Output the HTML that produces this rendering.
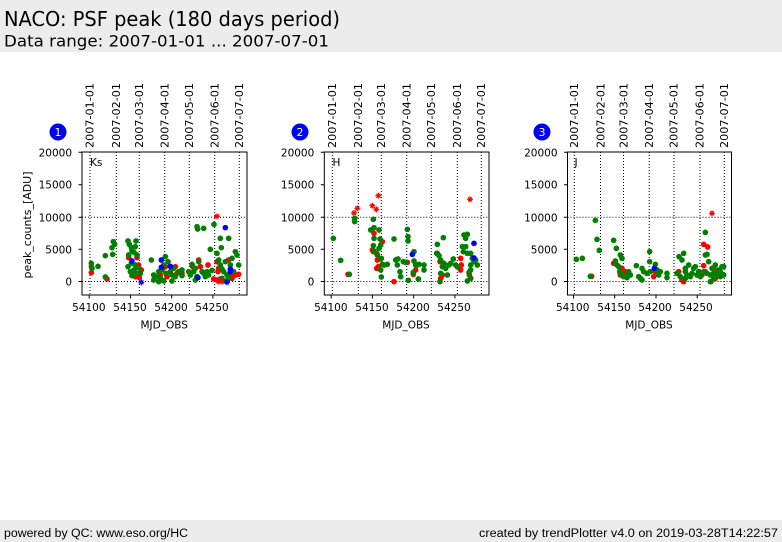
<!DOCTYPE html>
<html><head><meta charset="utf-8"><style>
html,body{margin:0;padding:0;background:#fff;}
svg{display:block;}
text{font-family:"DejaVu Sans","Liberation Sans",sans-serif;fill:#000;}
.ft{font-family:"Liberation Sans","DejaVu Sans",sans-serif;}
</style></head><body>
<svg width="782" height="542" viewBox="0 0 782 542" xmlns="http://www.w3.org/2000/svg">
<defs>
<clipPath id="c1"><rect x="82" y="152" width="165" height="143"/></clipPath>
<clipPath id="c2"><rect x="324.3" y="152" width="164.7" height="143"/></clipPath>
<clipPath id="c3"><rect x="567.5" y="152" width="164" height="143"/></clipPath>
</defs>
<rect x="0" y="0" width="782" height="52" fill="#ececec"/>
<rect x="0" y="520" width="782" height="22" fill="#ececec"/>
<text x="4" y="26" font-size="20" textLength="336" lengthAdjust="spacingAndGlyphs">NACO: PSF peak (180 days period)</text>
<text x="4" y="46.5" font-size="16" textLength="325" lengthAdjust="spacingAndGlyphs">Data range: 2007-01-01 ... 2007-07-01</text>
<text class="ft" x="4" y="537" font-size="11.5" textLength="184" lengthAdjust="spacingAndGlyphs">powered by QC: www.eso.org/HC</text>
<text class="ft" x="479" y="537" font-size="11.5" textLength="299" lengthAdjust="spacingAndGlyphs">created by trendPlotter v4.0 on 2019-03-28T14:22:57</text>

<text transform="translate(31,225) rotate(-90)" font-size="10.5" text-anchor="middle" textLength="107" lengthAdjust="spacingAndGlyphs">peak_counts_[ADU]</text>

<!-- ============ PANEL 1 ============ -->
<g>
<circle cx="58" cy="132" r="8.5" fill="#0000f5"/>
<text x="58" y="136" font-size="11" text-anchor="middle" style="fill:#fff">1</text>
<g font-size="10.5">
<text transform="translate(93.7,148) rotate(-90)" textLength="65" lengthAdjust="spacingAndGlyphs">2007-01-01</text>
<text transform="translate(120,148) rotate(-90)" textLength="65" lengthAdjust="spacingAndGlyphs">2007-02-01</text>
<text transform="translate(143,148) rotate(-90)" textLength="65" lengthAdjust="spacingAndGlyphs">2007-03-01</text>
<text transform="translate(168.4,148) rotate(-90)" textLength="65" lengthAdjust="spacingAndGlyphs">2007-04-01</text>
<text transform="translate(193,148) rotate(-90)" textLength="65" lengthAdjust="spacingAndGlyphs">2007-05-01</text>
<text transform="translate(218.4,148) rotate(-90)" textLength="65" lengthAdjust="spacingAndGlyphs">2007-06-01</text>
<text transform="translate(243,148) rotate(-90)" textLength="65" lengthAdjust="spacingAndGlyphs">2007-07-01</text>
</g>
<g font-size="10.5" text-anchor="end">
<text x="72" y="156.3">20000</text>
<text x="72" y="188.7">15000</text>
<text x="72" y="221.3">10000</text>
<text x="72" y="253.3">5000</text>
<text x="72" y="285.5">0</text>
</g>
<g font-size="10.5" text-anchor="middle">
<text x="88.8" y="311">54100</text>
<text x="130" y="311">54150</text>
<text x="171" y="311">54200</text>
<text x="212" y="311">54250</text>
<text x="164.2" y="328.5">MJD_OBS</text>
</g>
<text x="90" y="166" font-size="10.5">Ks</text>
<g stroke="#000" stroke-width="1" stroke-dasharray="1,2" fill="none">
<path d="M90 152V295M116.3 152V295M139.3 152V295M164.7 152V295M189.3 152V295M214.7 152V295M239.3 152V295"/>
<path d="M82 217.3H247M82 281.5H247"/>
</g>
<g stroke="#000" stroke-width="1">
<path d="M78.5 152.3H82M78.5 184.7H82M78.5 217.3H82M78.5 249.3H82M78.5 281.5H82"/>
<path d="M89.2 295V298.5M130.4 295V298.5M171.7 295V298.5M212.9 295V298.5"/>
</g>
<g clip-path="url(#c1)"><g transform="translate(82,205) scale(0.33333)">
<g fill="#ff0000">
<circle cx="28" cy="185" r="8.5"/><circle cx="28" cy="203" r="8.5"/><circle cx="75" cy="222" r="8.5"/><circle cx="140" cy="158" r="8.5"/><circle cx="165" cy="158" r="8.5"/><circle cx="170" cy="180" r="8.5"/><circle cx="160" cy="215" r="8.5"/><circle cx="155" cy="210" r="8.5"/><circle cx="178" cy="195" r="8.5"/><circle cx="172" cy="218" r="8.5"/><circle cx="220" cy="215" r="8.5"/><circle cx="250" cy="185" r="8.5"/><circle cx="280" cy="185" r="8.5"/><circle cx="285" cy="205" r="8.5"/><circle cx="300" cy="205" r="8.5"/><circle cx="235" cy="210" r="8.5"/><circle cx="350" cy="165" r="8.5"/><circle cx="332" cy="185" r="8.5"/><circle cx="355" cy="185" r="8.5"/><circle cx="345" cy="215" r="8.5"/><circle cx="378" cy="180" r="8.5"/><circle cx="405" cy="170" r="8.5"/><circle cx="408" cy="200" r="8.5"/><circle cx="410" cy="190" r="8.5"/><circle cx="440" cy="165" r="8.5"/><circle cx="445" cy="210" r="8.5"/><circle cx="450" cy="220" r="8.5"/><circle cx="460" cy="210" r="8.5"/><circle cx="415" cy="222" r="8.5"/><circle cx="405" cy="225" r="8.5"/><circle cx="395" cy="222" r="8.5"/><circle cx="150" cy="205" r="8.5"/><circle cx="255" cy="215" r="8.5"/><circle cx="470" cy="208" r="8.5"/>
</g>
<g fill="#008000">
<circle cx="28" cy="175" r="8.5"/><circle cx="30" cy="190" r="8.5"/><circle cx="48" cy="184" r="8.5"/><circle cx="70" cy="152" r="8.5"/><circle cx="70" cy="216" r="8.5"/><circle cx="90" cy="128" r="8.5"/><circle cx="94" cy="110" r="8.5"/><circle cx="92" cy="148" r="8.5"/><circle cx="98" cy="118" r="8.5"/><circle cx="138" cy="108" r="8.5"/><circle cx="142" cy="118" r="8.5"/><circle cx="148" cy="128" r="8.5"/><circle cx="150" cy="138" r="8.5"/><circle cx="156" cy="142" r="8.5"/><circle cx="162" cy="108" r="8.5"/><circle cx="160" cy="125" r="8.5"/><circle cx="165" cy="150" r="8.5"/><circle cx="140" cy="150" r="8.5"/><circle cx="138" cy="185" r="8.5"/><circle cx="145" cy="200" r="8.5"/><circle cx="150" cy="212" r="8.5"/><circle cx="156" cy="195" r="8.5"/><circle cx="160" cy="180" r="8.5"/><circle cx="170" cy="188" r="8.5"/><circle cx="175" cy="205" r="8.5"/><circle cx="165" cy="205" r="8.5"/><circle cx="148" cy="175" r="8.5"/><circle cx="208" cy="165" r="8.5"/><circle cx="215" cy="210" r="8.5"/><circle cx="222" cy="215" r="8.5"/><circle cx="230" cy="200" r="8.5"/><circle cx="236" cy="220" r="8.5"/><circle cx="240" cy="195" r="8.5"/><circle cx="245" cy="180" r="8.5"/><circle cx="250" cy="155" r="8.5"/><circle cx="252" cy="205" r="8.5"/><circle cx="258" cy="170" r="8.5"/><circle cx="265" cy="200" r="8.5"/><circle cx="270" cy="210" r="8.5"/><circle cx="275" cy="190" r="8.5"/><circle cx="280" cy="215" r="8.5"/><circle cx="290" cy="200" r="8.5"/><circle cx="300" cy="195" r="8.5"/><circle cx="300" cy="212" r="8.5"/><circle cx="245" cy="228" r="8.5"/><circle cx="270" cy="228" r="8.5"/><circle cx="230" cy="230" r="8.5"/><circle cx="215" cy="225" r="8.5"/><circle cx="330" cy="178" r="8.5"/><circle cx="335" cy="200" r="8.5"/><circle cx="340" cy="190" r="8.5"/><circle cx="345" cy="215" r="8.5"/><circle cx="350" cy="170" r="8.5"/><circle cx="345" cy="65" r="8.5"/><circle cx="347" cy="72" r="8.5"/><circle cx="365" cy="70" r="8.5"/><circle cx="340" cy="225" r="8.5"/><circle cx="360" cy="200" r="8.5"/><circle cx="365" cy="205" r="8.5"/><circle cx="370" cy="215" r="8.5"/><circle cx="380" cy="210" r="8.5"/><circle cx="385" cy="133" r="8.5"/><circle cx="390" cy="196" r="8.5"/><circle cx="396" cy="58" r="8.5"/><circle cx="375" cy="200" r="8.5"/><circle cx="415" cy="100" r="8.5"/><circle cx="440" cy="100" r="8.5"/><circle cx="405" cy="145" r="8.5"/><circle cx="410" cy="165" r="8.5"/><circle cx="415" cy="180" r="8.5"/><circle cx="420" cy="192" r="8.5"/><circle cx="425" cy="200" r="8.5"/><circle cx="430" cy="170" r="8.5"/><circle cx="435" cy="210" r="8.5"/><circle cx="440" cy="220" r="8.5"/><circle cx="445" cy="180" r="8.5"/><circle cx="450" cy="160" r="8.5"/><circle cx="460" cy="140" r="8.5"/><circle cx="465" cy="150" r="8.5"/><circle cx="470" cy="180" r="8.5"/><circle cx="455" cy="200" r="8.5"/><circle cx="420" cy="220" r="8.5"/><circle cx="432" cy="228" r="8.5"/><circle cx="418" cy="128" r="8.5"/><circle cx="320" cy="200" r="8.5"/><circle cx="325" cy="210" r="8.5"/>
</g>
<g fill="#0000ff">
<circle cx="150" cy="168" r="8.5"/><circle cx="238" cy="165" r="8.5"/><circle cx="238" cy="187" r="8.5"/><circle cx="265" cy="184" r="8.5"/><circle cx="348" cy="218" r="8.5"/><circle cx="445" cy="192" r="8.5"/><circle cx="445" cy="200" r="8.5"/><circle cx="430" cy="68" r="8.5"/>
</g>
<g stroke="#ff0000" stroke-width="3.5">
<path d="M396 34h18M405 25v18M399 28l12 12M411 28l-12 12"/>
<path d="M401 230h18M410 221v18M404 224l12 12M416 224l-12 12"/>
<path d="M411 230h18M420 221v18M414 224l12 12M426 224l-12 12"/>
</g>
<g stroke="#0000ff" stroke-width="3.5">
<path d="M169 232h18M178 223v18M172 226l12 12M184 226l-12 12"/>
<path d="M426 232h18M435 223v18M429 226l12 12M441 226l-12 12"/>
</g>
</g></g>
<rect x="82" y="152" width="165" height="143" fill="none" stroke="#000" stroke-width="1"/>
</g>

<!-- ============ PANEL 2 ============ -->
<g>
<circle cx="300" cy="132" r="8.5" fill="#0000f5"/>
<text x="300" y="136" font-size="11" text-anchor="middle" style="fill:#fff">2</text>
<g font-size="10.5">
<text transform="translate(336,148) rotate(-90)" textLength="65" lengthAdjust="spacingAndGlyphs">2007-01-01</text>
<text transform="translate(362,148) rotate(-90)" textLength="65" lengthAdjust="spacingAndGlyphs">2007-02-01</text>
<text transform="translate(385,148) rotate(-90)" textLength="65" lengthAdjust="spacingAndGlyphs">2007-03-01</text>
<text transform="translate(410.4,148) rotate(-90)" textLength="65" lengthAdjust="spacingAndGlyphs">2007-04-01</text>
<text transform="translate(435,148) rotate(-90)" textLength="65" lengthAdjust="spacingAndGlyphs">2007-05-01</text>
<text transform="translate(461,148) rotate(-90)" textLength="65" lengthAdjust="spacingAndGlyphs">2007-06-01</text>
<text transform="translate(485,148) rotate(-90)" textLength="65" lengthAdjust="spacingAndGlyphs">2007-07-01</text>
</g>
<g font-size="10.5" text-anchor="end">
<text x="314.3" y="156.3">20000</text>
<text x="314.3" y="188.7">15000</text>
<text x="314.3" y="221.3">10000</text>
<text x="314.3" y="253.3">5000</text>
<text x="314.3" y="285.5">0</text>
</g>
<g font-size="10.5" text-anchor="middle">
<text x="330.8" y="311">54100</text>
<text x="372" y="311">54150</text>
<text x="413" y="311">54200</text>
<text x="454" y="311">54250</text>
<text x="406" y="328.5">MJD_OBS</text>
</g>
<text x="332.5" y="166" font-size="10.5">H</text>
<g stroke="#000" stroke-width="1" stroke-dasharray="1,2" fill="none">
<path d="M332.3 152V295M358.3 152V295M381.3 152V295M406.7 152V295M431.3 152V295M457.3 152V295M481.3 152V295"/>
<path d="M324.3 217.3H489M324.3 281.5H489"/>
</g>
<g stroke="#000" stroke-width="1">
<path d="M320.8 152.3H324.3M320.8 184.7H324.3M320.8 217.3H324.3M320.8 249.3H324.3M320.8 281.5H324.3"/>
<path d="M331.2 295V298.5M372.4 295V298.5M413.7 295V298.5M454.9 295V298.5"/>
</g>
<g clip-path="url(#c2)"><g transform="translate(324,185) scale(0.33333)">
<g fill="#ff0000">
<circle cx="150" cy="145" r="8.5"/><circle cx="145" cy="195" r="8.5"/><circle cx="158" cy="205" r="8.5"/><circle cx="160" cy="225" r="8.5"/><circle cx="170" cy="222" r="8.5"/><circle cx="163" cy="245" r="8.5"/><circle cx="158" cy="250" r="8.5"/><circle cx="175" cy="170" r="8.5"/><circle cx="210" cy="290" r="8.5"/><circle cx="275" cy="255" r="8.5"/><circle cx="268" cy="268" r="8.5"/><circle cx="340" cy="205" r="8.5"/><circle cx="348" cy="230" r="8.5"/><circle cx="355" cy="270" r="8.5"/><circle cx="350" cy="280" r="8.5"/><circle cx="410" cy="220" r="8.5"/><circle cx="412" cy="240" r="8.5"/><circle cx="410" cy="255" r="8.5"/><circle cx="440" cy="280" r="8.5"/><circle cx="436" cy="270" r="8.5"/><circle cx="280" cy="240" r="8.5"/><circle cx="72" cy="268" r="8.5"/><circle cx="148" cy="200" r="8.5"/><circle cx="250" cy="232" r="8.5"/>
</g>
<g fill="#008000">
<circle cx="28" cy="160" r="8.5"/><circle cx="50" cy="226" r="8.5"/><circle cx="76" cy="268" r="8.5"/><circle cx="92" cy="100" r="8.5"/><circle cx="92" cy="110" r="8.5"/><circle cx="148" cy="103" r="8.5"/><circle cx="150" cy="128" r="8.5"/><circle cx="140" cy="135" r="8.5"/><circle cx="165" cy="135" r="8.5"/><circle cx="150" cy="160" r="8.5"/><circle cx="168" cy="162" r="8.5"/><circle cx="170" cy="180" r="8.5"/><circle cx="148" cy="182" r="8.5"/><circle cx="165" cy="190" r="8.5"/><circle cx="150" cy="198" r="8.5"/><circle cx="160" cy="210" r="8.5"/><circle cx="172" cy="220" r="8.5"/><circle cx="175" cy="238" r="8.5"/><circle cx="180" cy="240" r="8.5"/><circle cx="190" cy="238" r="8.5"/><circle cx="170" cy="255" r="8.5"/><circle cx="172" cy="276" r="8.5"/><circle cx="210" cy="162" r="8.5"/><circle cx="215" cy="225" r="8.5"/><circle cx="222" cy="222" r="8.5"/><circle cx="220" cy="240" r="8.5"/><circle cx="228" cy="260" r="8.5"/><circle cx="230" cy="275" r="8.5"/><circle cx="238" cy="230" r="8.5"/><circle cx="245" cy="232" r="8.5"/><circle cx="250" cy="133" r="8.5"/><circle cx="252" cy="155" r="8.5"/><circle cx="252" cy="168" r="8.5"/><circle cx="270" cy="200" r="8.5"/><circle cx="270" cy="228" r="8.5"/><circle cx="275" cy="240" r="8.5"/><circle cx="268" cy="262" r="8.5"/><circle cx="285" cy="238" r="8.5"/><circle cx="300" cy="240" r="8.5"/><circle cx="300" cy="255" r="8.5"/><circle cx="283" cy="282" r="8.5"/><circle cx="253" cy="286" r="8.5"/><circle cx="340" cy="178" r="8.5"/><circle cx="338" cy="205" r="8.5"/><circle cx="345" cy="212" r="8.5"/><circle cx="350" cy="225" r="8.5"/><circle cx="355" cy="245" r="8.5"/><circle cx="358" cy="158" r="8.5"/><circle cx="360" cy="235" r="8.5"/><circle cx="365" cy="250" r="8.5"/><circle cx="370" cy="270" r="8.5"/><circle cx="375" cy="240" r="8.5"/><circle cx="380" cy="235" r="8.5"/><circle cx="388" cy="222" r="8.5"/><circle cx="395" cy="240" r="8.5"/><circle cx="400" cy="245" r="8.5"/><circle cx="348" cy="290" r="8.5"/><circle cx="420" cy="150" r="8.5"/><circle cx="425" cy="160" r="8.5"/><circle cx="430" cy="148" r="8.5"/><circle cx="415" cy="185" r="8.5"/><circle cx="425" cy="185" r="8.5"/><circle cx="418" cy="200" r="8.5"/><circle cx="430" cy="205" r="8.5"/><circle cx="440" cy="205" r="8.5"/><circle cx="445" cy="220" r="8.5"/><circle cx="440" cy="240" r="8.5"/><circle cx="440" cy="255" r="8.5"/><circle cx="450" cy="230" r="8.5"/><circle cx="455" cy="225" r="8.5"/><circle cx="460" cy="240" r="8.5"/><circle cx="435" cy="262" r="8.5"/><circle cx="430" cy="288" r="8.5"/><circle cx="440" cy="280" r="8.5"/><circle cx="350" cy="265" r="8.5"/>
</g>
<g fill="#0000ff">
<circle cx="265" cy="208" r="8.5"/><circle cx="450" cy="175" r="8.5"/><circle cx="450" cy="219" r="8.5"/>
</g>
<g stroke="#ff0000" stroke-width="3.5">
<path d="M81 84h18M90 75v18M84 78l12 12M96 78l-12 12"/>
<path d="M91 70h18M100 61v18M94 64l12 12M106 64l-12 12"/>
<path d="M136 62h18M145 53v18M139 56l12 12M151 56l-12 12"/>
<path d="M148 73h18M157 64v18M151 67l12 12M163 67l-12 12"/>
<path d="M154 32h18M163 23v18M157 26l12 12M169 26l-12 12"/>
<path d="M429 43h18M438 34v18M432 37l12 12M444 37l-12 12"/>
</g>
</g></g>
<rect x="324.3" y="152" width="164.7" height="143" fill="none" stroke="#000" stroke-width="1"/>
</g>

<!-- ============ PANEL 3 ============ -->
<g>
<circle cx="542" cy="132" r="8.5" fill="#0000f5"/>
<text x="542" y="136" font-size="11" text-anchor="middle" style="fill:#fff">3</text>
<g font-size="10.5">
<text transform="translate(578,148) rotate(-90)" textLength="65" lengthAdjust="spacingAndGlyphs">2007-01-01</text>
<text transform="translate(604.3,148) rotate(-90)" textLength="65" lengthAdjust="spacingAndGlyphs">2007-02-01</text>
<text transform="translate(627.3,148) rotate(-90)" textLength="65" lengthAdjust="spacingAndGlyphs">2007-03-01</text>
<text transform="translate(653,148) rotate(-90)" textLength="65" lengthAdjust="spacingAndGlyphs">2007-04-01</text>
<text transform="translate(677.5,148) rotate(-90)" textLength="65" lengthAdjust="spacingAndGlyphs">2007-05-01</text>
<text transform="translate(703.3,148) rotate(-90)" textLength="65" lengthAdjust="spacingAndGlyphs">2007-06-01</text>
<text transform="translate(728,148) rotate(-90)" textLength="65" lengthAdjust="spacingAndGlyphs">2007-07-01</text>
</g>
<g font-size="10.5" text-anchor="end">
<text x="557.5" y="156.3">20000</text>
<text x="557.5" y="188.7">15000</text>
<text x="557.5" y="221.3">10000</text>
<text x="557.5" y="253.3">5000</text>
<text x="557.5" y="285.5">0</text>
</g>
<g font-size="10.5" text-anchor="middle">
<text x="572.7" y="311">54100</text>
<text x="614" y="311">54150</text>
<text x="655" y="311">54200</text>
<text x="696" y="311">54250</text>
<text x="649" y="328.5">MJD_OBS</text>
</g>
<text x="574.5" y="166" font-size="10.5">J</text>
<g stroke="#000" stroke-width="1" stroke-dasharray="1,2" fill="none">
<path d="M574.3 152V295M600.5 152V295M623.5 152V295M649.2 152V295M674 152V295M700 152V295M724.3 152V295"/>
<path d="M567.5 217.3H731.5M567.5 281.5H731.5"/>
</g>
<g stroke="#000" stroke-width="1">
<path d="M564 152.3H567.5M564 184.7H567.5M564 217.3H567.5M564 249.3H567.5M564 281.5H567.5"/>
<path d="M573.5 295V298.5M614.7 295V298.5M656 295V298.5M697.2 295V298.5"/>
</g>
<g clip-path="url(#c3)"><g transform="translate(567,205) scale(0.33333)">
<g fill="#ff0000">
<circle cx="74" cy="214" r="8.5"/><circle cx="140" cy="175" r="8.5"/><circle cx="160" cy="210" r="8.5"/><circle cx="165" cy="190" r="8.5"/><circle cx="175" cy="200" r="8.5"/><circle cx="180" cy="218" r="8.5"/><circle cx="260" cy="215" r="8.5"/><circle cx="265" cy="200" r="8.5"/><circle cx="278" cy="200" r="8.5"/><circle cx="335" cy="200" r="8.5"/><circle cx="345" cy="225" r="8.5"/><circle cx="350" cy="230" r="8.5"/><circle cx="410" cy="118" r="8.5"/><circle cx="422" cy="126" r="8.5"/><circle cx="410" cy="182" r="8.5"/><circle cx="415" cy="200" r="8.5"/><circle cx="440" cy="190" r="8.5"/><circle cx="445" cy="205" r="8.5"/><circle cx="445" cy="220" r="8.5"/><circle cx="432" cy="230" r="8.5"/><circle cx="405" cy="210" r="8.5"/>
</g>
<g fill="#008000">
<circle cx="28" cy="163" r="8.5"/><circle cx="46" cy="160" r="8.5"/><circle cx="70" cy="214" r="8.5"/><circle cx="85" cy="46" r="8.5"/><circle cx="90" cy="103" r="8.5"/><circle cx="97" cy="136" r="8.5"/><circle cx="140" cy="106" r="8.5"/><circle cx="148" cy="130" r="8.5"/><circle cx="160" cy="150" r="8.5"/><circle cx="165" cy="160" r="8.5"/><circle cx="145" cy="168" r="8.5"/><circle cx="150" cy="180" r="8.5"/><circle cx="155" cy="185" r="8.5"/><circle cx="158" cy="200" r="8.5"/><circle cx="165" cy="210" r="8.5"/><circle cx="170" cy="215" r="8.5"/><circle cx="185" cy="200" r="8.5"/><circle cx="190" cy="210" r="8.5"/><circle cx="180" cy="215" r="8.5"/><circle cx="208" cy="182" r="8.5"/><circle cx="215" cy="215" r="8.5"/><circle cx="220" cy="220" r="8.5"/><circle cx="225" cy="190" r="8.5"/><circle cx="230" cy="200" r="8.5"/><circle cx="240" cy="205" r="8.5"/><circle cx="248" cy="140" r="8.5"/><circle cx="248" cy="170" r="8.5"/><circle cx="250" cy="200" r="8.5"/><circle cx="265" cy="178" r="8.5"/><circle cx="270" cy="195" r="8.5"/><circle cx="275" cy="210" r="8.5"/><circle cx="280" cy="200" r="8.5"/><circle cx="300" cy="205" r="8.5"/><circle cx="300" cy="218" r="8.5"/><circle cx="225" cy="225" r="8.5"/><circle cx="330" cy="205" r="8.5"/><circle cx="336" cy="155" r="8.5"/><circle cx="345" cy="165" r="8.5"/><circle cx="350" cy="145" r="8.5"/><circle cx="355" cy="190" r="8.5"/><circle cx="355" cy="200" r="8.5"/><circle cx="360" cy="210" r="8.5"/><circle cx="365" cy="180" r="8.5"/><circle cx="370" cy="215" r="8.5"/><circle cx="375" cy="205" r="8.5"/><circle cx="380" cy="190" r="8.5"/><circle cx="385" cy="185" r="8.5"/><circle cx="390" cy="210" r="8.5"/><circle cx="395" cy="200" r="8.5"/><circle cx="340" cy="215" r="8.5"/><circle cx="355" cy="220" r="8.5"/><circle cx="415" cy="82" r="8.5"/><circle cx="415" cy="150" r="8.5"/><circle cx="420" cy="148" r="8.5"/><circle cx="425" cy="170" r="8.5"/><circle cx="410" cy="200" r="8.5"/><circle cx="420" cy="205" r="8.5"/><circle cx="430" cy="210" r="8.5"/><circle cx="435" cy="190" r="8.5"/><circle cx="440" cy="205" r="8.5"/><circle cx="440" cy="220" r="8.5"/><circle cx="445" cy="180" r="8.5"/><circle cx="450" cy="210" r="8.5"/><circle cx="455" cy="195" r="8.5"/><circle cx="460" cy="200" r="8.5"/><circle cx="465" cy="185" r="8.5"/><circle cx="470" cy="185" r="8.5"/><circle cx="460" cy="215" r="8.5"/><circle cx="430" cy="230" r="8.5"/><circle cx="400" cy="215" r="8.5"/><circle cx="470" cy="210" r="8.5"/>
</g>
<g fill="#0000ff">
<circle cx="262" cy="190" r="8.5"/>
</g>
<g stroke="#ff0000" stroke-width="3.5">
<path d="M426 25h18M435 16v18M429 19l12 12M441 19l-12 12"/>
</g>
</g></g>
<rect x="567.5" y="152" width="164" height="143" fill="none" stroke="#000" stroke-width="1"/>
</g>
</svg>
</body></html>
